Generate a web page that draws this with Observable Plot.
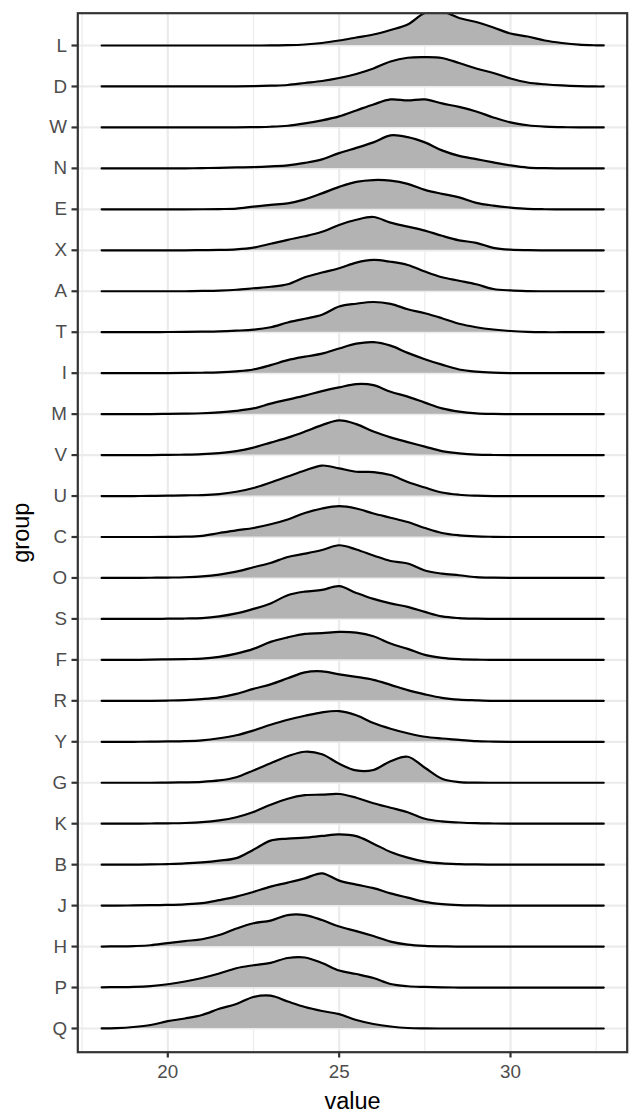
<!DOCTYPE html>
<html>
<head>
<meta charset="utf-8">
<script src="https://cdn.jsdelivr.net/npm/d3@7"></script>
<script src="https://cdn.jsdelivr.net/npm/@observablehq/plot@0.6"></script>
<style>
  html, body { margin: 0; padding: 0; background: #ffffff; }
</style>
</head>
<body>
<div id="chart"></div>
<script>
// Groups, bottom to top
const groups = ["Q","P","H","J","B","K","G","Y","R","F","S","O","C","U","V","M","I","T","A","X","E","N","W","D","L"];

// Evaluation points of the density estimates
const xGrid = [18.07, 18.5, 19, 19.5, 20, 20.5, 21, 21.5, 22, 22.5, 23, 23.5, 24, 24.5, 25, 25.5, 26, 26.5, 27, 27.5, 28, 28.5, 29, 29.5, 30, 30.5, 31, 31.5, 32, 32.5, 32.72];

// Relative density heights (one per xGrid point)
const dens_L = [0,0,0,0,0,0,0,0,0,0,0.1,0.3,1,2.5,5,8,11,15.5,21,32.5,34,27.5,23.5,18,12,9,5,2.5,0.8,0.2,0.1];
const dens_D = [0,0,0,0,0,0,0,0,0,0.3,0.8,1.5,3.5,5.5,8.5,12.5,18,25,28.7,29.3,28.5,23.5,18,13.5,8,4,2.2,1,0.3,0,0];
const dens_W = [0,0,0,0,0,0,0,0,0,0.3,0.7,1.7,4,7,11,17,23,28,27,28,24,20.5,16,10,5,2.2,0.8,0.3,0,0,0];
const dens_N = [0,0,0,0,0,0,0.3,0.6,1,1.3,2,3,5.5,9,15.3,20.5,26,33,31.3,26,18,12.5,9.3,6,3,0.8,0.2,0,0,0,0];
const dens_E = [0,0,0,0,0,0,0.1,0.3,0.7,2.7,4.5,6,10,16,22.5,27.5,29.3,28.7,25.5,19.5,15.5,12,6.5,3.7,1.8,0.5,0.1,0,0,0,0];
const dens_X = [0,0,0,0,0,0,0.2,0.4,1,2.7,6.5,10.5,14,18.5,25.3,30.5,33.3,27.7,23.7,19.7,14.5,10,7.5,2.5,0.6,0.1,0,0,0,0,0];
const dens_A = [0,0,0,0,0,0,0.3,0.7,1.5,3,4.5,7,14,18.7,23,28.7,31.3,29.5,26.3,19.7,14,10.5,7,2.3,0.8,0.2,0,0,0,0,0];
const dens_T = [0,0,0,0,0.2,0.3,0.5,0.8,1.5,2.5,5,9.7,13.5,17.5,25.7,28.5,30.2,28.3,23,19,14,8.5,5,2.7,1.2,0.3,0,0,0,0,0];
const dens_I = [0,0,0,0,0.1,0.2,0.4,0.8,1.8,3.7,8,13,16.5,19.5,24.7,29.5,31,27.5,20.3,14,8.5,3.7,1.5,0.5,0.1,0,0,0,0,0,0];
const dens_M = [0,0,0,0.1,0.3,0.5,0.9,1.8,3.3,5.7,10.5,14.5,18.5,23,26.7,30,29,22.3,17.5,11.5,5.7,2.5,0.8,0.2,0,0,0,0,0,0,0];
const dens_V = [0,0,0,0,0.2,0.4,0.9,2,4,7.5,12.5,17.5,23.5,30,34.7,31,23.5,17.7,13,8.5,4,1.8,0.5,0.1,0,0,0,0,0,0,0];
const dens_U = [0,0,0,0.2,0.4,0.7,1,2,4.3,8,13.5,19.5,25.5,30.5,27.7,24.3,24,21,14,8.5,3.5,1.3,0.4,0,0,0,0,0,0,0,0];
const dens_C = [0,0,0,0,0.1,0.3,1.2,4,6.7,9,12.7,17.5,24,28.5,30.8,28.5,23.5,19.3,15,9,4,1.7,0.6,0.2,0,0,0,0,0,0,0];
const dens_O = [0,0,0,0.2,0.4,0.7,1.5,3.3,6.3,10.7,15,21,24.3,28,32.7,28.5,22.5,17,14.5,7.5,4.3,2.7,0.9,0.3,0,0,0,0,0,0,0];
const dens_S = [0,0,0,0,0.2,0.4,0.8,2.5,5.5,10,15.5,23.7,27.3,29,32.7,26,20,15.5,12,7,2.5,0.8,0.2,0,0,0,0,0,0,0,0];
const dens_F = [0,0,0,0.2,0.5,0.8,1.2,3,6.3,11,18,22.5,26,26.8,28,27.3,23.7,16.3,11,5,2,0.7,0.2,0,0,0,0,0,0,0,0];
const dens_R = [0,0,0,0,0.3,0.8,1.8,3.5,7,12,16.5,22.5,28.5,29.5,26.5,24,21,16,10.7,6.5,3,1.2,0.5,0,0,0,0,0,0,0,0];
const dens_Y = [0,0,0,0.2,0.4,0.7,1.5,3.5,6.5,11.3,17,22,26,29.5,30.7,26.5,18.7,13,8.5,5,3.3,2,0.6,0.2,0,0,0,0,0,0,0];
const dens_G = [0,0,0,0,0.2,0.4,0.9,2.3,5.5,12.3,19.5,26.5,31,28.5,19,12.3,12.8,21.5,26,15,4,0.7,0.1,0,0,0,0,0,0,0,0];
const dens_K = [0,0,0,0.2,0.4,0.7,1.5,3.3,6.5,11.7,19,25,28.5,29,29.7,26,20.5,16,11.5,5,2.3,1.2,0.5,0.2,0,0,0,0,0,0,0];
const dens_B = [0,0,0,0.2,0.6,1.2,2.3,4,6.5,15,24,26,27,28.7,30.3,28.5,21,12.7,7,3,1.2,0.5,0.2,0,0,0,0,0,0,0,0];
const dens_J = [0,0,0.2,0.4,0.7,1.3,2.5,5.5,9,13.7,19,23,27.3,32.3,25,21,17.5,12.3,8,3.7,1.5,0.5,0.2,0,0,0,0,0,0,0,0];
const dens_H = [0,0.2,0.5,1.3,3.5,5.5,7.3,11.5,18,23.3,26,31.5,31.5,26.5,20,15.5,10.5,5,2,0.7,0.2,0,0,0,0,0,0,0,0,0,0];
const dens_P = [0.2,0.4,0.7,1.5,3.3,6,9.5,14,19.3,22.3,24.7,29.5,30,24.5,17,13.5,9.5,3.5,1.3,0.6,0.2,0,0,0,0,0,0,0,0,0,0];
const dens_Q = [0.1,0.4,1.5,3.5,7.3,10,13.5,19.7,24.5,31.5,32.8,27,21.5,17.5,14.3,8.5,4.5,2,0.5,0.1,0,0,0,0,0,0,0,0,0,0,0];

const densities = {L: dens_L, D: dens_D, W: dens_W, N: dens_N, E: dens_E, X: dens_X, A: dens_A, T: dens_T,
  I: dens_I, M: dens_M, V: dens_V, U: dens_U, C: dens_C, O: dens_O, S: dens_S, F: dens_F, R: dens_R,
  Y: dens_Y, G: dens_G, K: dens_K, B: dens_B, J: dens_J, H: dens_H, P: dens_P, Q: dens_Q};

const xTicks = [20, 25, 30];
const xMinor = [17.5, 22.5, 27.5, 32.5];

// density -> fraction of one row spacing
const ridgeScale = 1 / 40.96;

const rows = [];
groups.forEach((g, gi) => {
  densities[g].forEach((d, i) => {
    rows.push({group: g, x: xGrid[i], base: gi, top: gi + d * ridgeScale});
  });
});

const grid = "#ebebeb";
const dark = "#333333";
const font = "'Liberation Sans', Arial, Helvetica, sans-serif";
const curve = "catmull-rom";
const lw = 2.2;

const chart = Plot.plot({
  width: 640,
  height: 1120,
  marginLeft: 77.3,
  marginRight: 13.3,
  marginTop: 12.7,
  marginBottom: 68.3,
  style: {fontFamily: font, fontSize: "18.8px", background: "#ffffff", color: "#000000"},
  x: {domain: [17.374, 33.405]},
  y: {domain: [-0.579, 24.789]},
  marks: [
    Plot.ruleX(xMinor, {stroke: grid, strokeWidth: 1.1}),
    Plot.ruleX(xTicks, {stroke: grid, strokeWidth: lw}),
    Plot.ruleY(groups.map((g, i) => i), {stroke: grid, strokeWidth: lw}),
    Plot.areaY(rows, {x: "x", y1: "base", y2: "top", z: "group", fill: "#b3b3b3", curve, clip: true}),
    Plot.lineY(rows, {x: "x", y: "top", z: "group", stroke: "#000000", strokeWidth: lw, curve, clip: true}),
    Plot.frame({stroke: dark, strokeWidth: lw}),
    Plot.axisX(xTicks, {tickSize: 5.8, tickPadding: 7, stroke: dark, strokeWidth: lw, fill: "#4d4d4d", fontSize: 18.8, label: null}),
    Plot.axisY(groups.map((g, i) => i), {tickSize: 5.8, tickPadding: 5, stroke: dark, strokeWidth: lw, fill: "#4d4d4d", fontSize: 18.8, tickFormat: (i) => groups[i], label: null}),
    Plot.text(["value"], {frameAnchor: "bottom", textAnchor: "middle", lineAnchor: "middle", dy: 48.8, fontSize: 23.5, fill: "#000000"}),
    Plot.text(["group"], {frameAnchor: "left", textAnchor: "middle", lineAnchor: "middle", dx: -56.2, rotate: -90, fontSize: 23.5, fill: "#000000"})
  ]
});

document.getElementById("chart").appendChild(chart);
</script>
</body>
</html>
